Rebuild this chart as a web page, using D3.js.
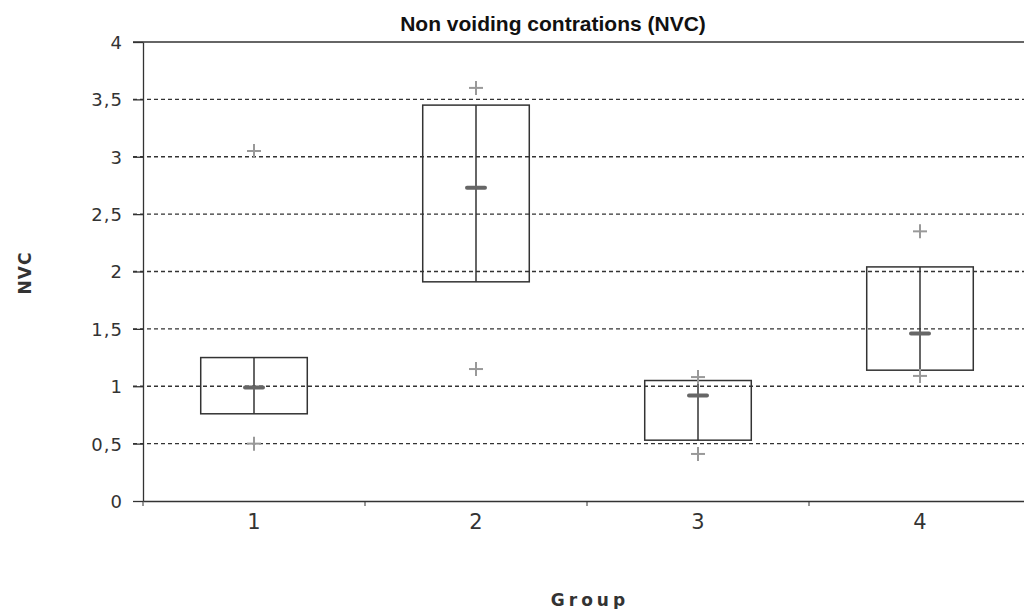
<!DOCTYPE html>
<html>
<head>
<meta charset="utf-8">
<script src="https://cdn.jsdelivr.net/npm/d3@7"></script>
<style>
	body { margin: 0; background: #fff; }
	svg { display: block; font-family: "Liberation Sans", Arial, sans-serif; }
	.axis path, .axis line { stroke: #333; }
	.axis text { fill: #333; font-family: "DejaVu Sans", sans-serif; }
</style>
</head>
<body>
<svg class="chart" width="1024" height="609"></svg>
<script>
(function() {

	// DATA
	var groups = ['1', '2', '3', '4']
	var q1 = [0.76, 1.91, 0.53, 1.14]
	var q3 = [1.25, 3.45, 1.05, 2.04]
	var medians = [0.99, 2.73, 0.92, 1.46]
	var outHigh = [3.05, 3.6, 1.08, 2.35]
	var outLow = [0.5, 1.15, 0.41, 1.09]
	var yTicks = [0, 0.5, 1, 1.5, 2, 2.5, 3, 3.5, 4]

	// LAYOUT
	var margin = { top: 42, left: 143, bottom: 108, right: -7 }
	var W = 1024, H = 609
	var width = W - margin.left - margin.right
	var height = H - margin.top - margin.bottom

	var svg = d3.select('.chart')
	var g = svg.append('g')
		.attr('transform', 'translate(' + margin.left + ',' + margin.top + ')')

	var x = d3.scaleBand().domain(groups).range([0, width]).padding(0)
	var y = d3.scaleLinear().domain([0, 4]).range([height, 0])

	function fmt(d) { return String(d).replace('.', ',') }

	// dashed grid
	g.selectAll('.grid')
		.data(yTicks.filter(function(d) { return d > 0 && d < 4 }))
		.enter().append('line')
		.attr('class', 'grid')
		.attr('x1', -10).attr('x2', width)
		.attr('y1', function(d) { return y(d) }).attr('y2', function(d) { return y(d) })
		.style('stroke', '#333')
		.style('stroke-width', 1.3)
		.style('stroke-dasharray', '4,3')

	// top border
	g.append('line')
		.attr('x1', -10).attr('x2', width)
		.attr('y1', 0).attr('y2', 0)
		.style('stroke', '#333').style('stroke-width', 1.3)

	// axes
	var axisY = d3.axisLeft(y)
		.tickValues(yTicks)
		.tickFormat(fmt)
		.tickSize(10)
		.tickSizeOuter(0)
		.tickPadding(10)

	g.append('g').attr('class', 'axis axis--y').call(axisY)
		.selectAll('text')
		.attr('dy', '0.36em')
		.style('font-size', '18px')
		.style('letter-spacing', '1px')
	g.select('.axis--y').selectAll('.tick line').style('stroke-width', 1.3)
	g.select('.axis--y .domain').style('stroke-width', 1.3)

	var axisX = d3.axisBottom(x)
		.tickSize(0)
		.tickPadding(22)

	var gx = g.append('g').attr('class', 'axis axis--x')
		.attr('transform', 'translate(0,' + height + ')')
		.call(axisX)
	gx.select('.domain').style('stroke-width', 1.3)
	gx.selectAll('text')
		.attr('dy', '0.3em')
		.style('font-size', '21px')

	// band boundary ticks
	gx.selectAll('.bound')
		.data(groups)
		.enter().append('line')
		.attr('class', 'bound')
		.attr('x1', function(d) { return x(d) }).attr('x2', function(d) { return x(d) })
		.attr('y1', 0).attr('y2', 5)
		.style('stroke', '#333')

	// boxes
	var boxW = x.bandwidth() * 0.48
	var data = groups.map(function(d, i) {
		return { key: d, q1: q1[i], q3: q3[i], med: medians[i], hi: outHigh[i], lo: outLow[i] }
	})

	var box = g.selectAll('.box')
		.data(data)
		.enter().append('g')
		.attr('class', 'box')
		.attr('transform', function(d) { return 'translate(' + (x(d.key) + x.bandwidth() / 2) + ',0)' })

	box.append('rect')
		.attr('x', -boxW / 2)
		.attr('width', boxW)
		.attr('y', function(d) { return y(d.q3) })
		.attr('height', function(d) { return y(d.q1) - y(d.q3) })
		.style('fill', 'none')
		.style('stroke', '#333')
		.style('stroke-width', 1.5)

	box.append('line')
		.attr('x1', 0).attr('x2', 0)
		.attr('y1', function(d) { return y(d.q3) })
		.attr('y2', function(d) { return y(d.q1) })
		.style('stroke', '#333')
		.style('stroke-width', 1.5)

	box.append('line')
		.attr('x1', -9).attr('x2', 9)
		.attr('y1', function(d) { return y(d.med) })
		.attr('y2', function(d) { return y(d.med) })
		.style('stroke', '#666')
		.style('stroke-width', 4)
		.style('stroke-linecap', 'round')

	// outlier crosses
	function cross(sel, key) {
		var c = sel.append('g')
			.attr('transform', function(d) { return 'translate(0,' + y(d[key]) + ')' })
		c.append('line').attr('x1', -7).attr('x2', 7).attr('y1', 0).attr('y2', 0)
		c.append('line').attr('x1', 0).attr('x2', 0).attr('y1', -7).attr('y2', 7)
		c.selectAll('line').style('stroke', '#999').style('stroke-width', 2)
	}
	cross(box, 'hi')
	cross(box, 'lo')

	// titles
	svg.append('text')
		.attr('x', 553).attr('y', 31)
		.attr('text-anchor', 'middle')
		.style('font-size', '21px').style('font-weight', 'bold').style('fill', '#111')
		.text('Non voiding contrations (NVC)')

	svg.append('text')
		.attr('x', 590).attr('y', 606)
		.attr('text-anchor', 'middle')
		.style('font-family', '"DejaVu Sans", sans-serif')
		.style('font-size', '17px').style('font-weight', 'bold').style('fill', '#333')
		.style('letter-spacing', '4px')
		.text('Group')

	svg.append('text')
		.attr('transform', 'translate(31,273)rotate(-90)')
		.attr('text-anchor', 'middle')
		.style('font-family', '"DejaVu Sans", sans-serif')
		.style('font-size', '17px').style('font-weight', 'bold').style('fill', '#333')
		.style('letter-spacing', '1px')
		.text('NVC')

})()
</script>
</body>
</html>
